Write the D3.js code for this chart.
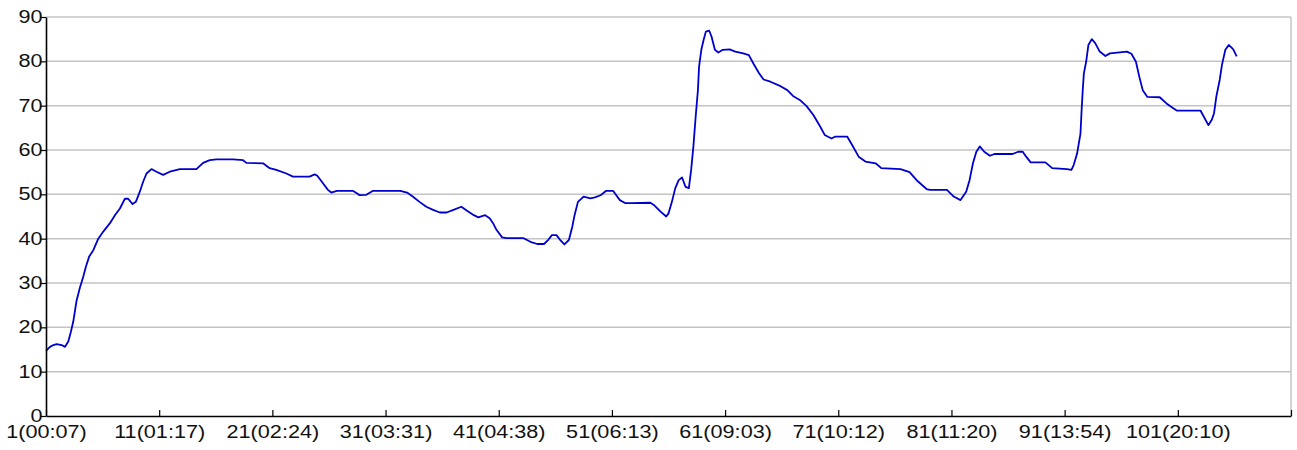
<!DOCTYPE html>
<html>
<head>
<meta charset="utf-8">
<script src="https://cdn.jsdelivr.net/npm/d3@7"></script>
<style>
  body { margin: 0; background: #fff; }
  text { font-family: Arial, "Liberation Sans", sans-serif; }
</style>
</head>
<body>
<svg id="chart" width="1297" height="450"></svg>
<script>
// sample position (record index) and reading
var readings = [
  [1.0,14.7],[1.35,15.6],[1.65,16.0],[1.94,16.2],[2.38,16.0],[2.68,15.6],[2.97,16.8],[3.2,19.0],[3.41,21.3],[3.7,26.0],
  [4.0,29.0],[4.29,31.4],[4.53,33.7],[4.82,36.0],[5.18,37.4],[5.62,40.0],[6.06,41.6],[6.65,43.5],[7.09,45.3],[7.53,46.8],
  [7.97,49.0],[8.26,49.0],[8.65,47.8],[8.94,48.3],[9.29,50.6],[9.59,52.9],[9.88,54.7],[10.32,55.7],[10.76,55.1],[11.35,54.4],
  [11.94,55.1],[12.82,55.7],[14.29,55.7],[14.88,57.1],[15.47,57.7],[16.06,57.9],[17.53,57.9],[18.41,57.7],[18.71,57.1],[20.18,57.0],
  [20.76,55.9],[21.35,55.5],[22.24,54.7],[22.82,54.0],[24.29,54.0],[24.74,54.5],[24.97,54.2],[25.47,52.5],[25.91,51.0],[26.2,50.4],
  [26.7,50.8],[28.1,50.8],[28.5,50.2],[28.7,49.8],[29.3,49.9],[29.9,50.8],[32.3,50.8],[32.9,50.4],[33.4,49.5],[34.0,48.3],
  [34.6,47.2],[35.2,46.5],[35.8,45.9],[36.4,45.9],[37.0,46.5],[37.7,47.2],[38.2,46.3],[38.8,45.3],[39.2,44.8],[39.8,45.3],
  [40.2,44.6],[40.5,43.5],[40.8,42.0],[41.3,40.3],[41.7,40.1],[43.2,40.1],[43.8,39.3],[44.4,38.8],[45.0,38.8],[45.4,39.8],
  [45.7,40.8],[46.1,40.8],[46.4,39.8],[46.8,38.7],[47.2,39.7],[47.5,42.7],[47.7,45.3],[48.0,48.3],[48.5,49.5],[49.1,49.1],
  [49.5,49.3],[50.0,49.8],[50.5,50.8],[51.1,50.8],[51.7,48.7],[52.2,48.0],[52.7,48.0],[54.4,48.1],[54.7,47.6],[55.3,46.1],
  [55.8,45.0],[56.0,45.7],[56.3,48.3],[56.6,51.4],[56.9,53.2],[57.2,53.8],[57.5,51.7],[57.8,51.4],[58.0,55.5],[58.2,60.8],
  [58.4,67.5],[58.6,73.5],[58.7,78.8],[58.9,82.6],[59.1,84.8],[59.3,86.7],[59.6,86.9],[59.8,85.6],[60.1,82.6],[60.4,82.0],
  [60.8,82.6],[61.4,82.7],[61.9,82.2],[62.6,81.8],[63.1,81.4],[63.5,79.5],[64.0,77.3],[64.4,75.9],[65.0,75.4],[65.9,74.4],
  [66.5,73.5],[67.0,72.2],[67.6,71.3],[68.2,69.9],[68.8,67.9],[69.4,65.3],[69.8,63.4],[70.4,62.6],[70.7,63.0],[71.8,63.0],
  [72.3,60.8],[72.8,58.5],[73.4,57.4],[74.3,57.0],[74.8,55.9],[76.5,55.7],[77.3,55.0],[78.0,53.0],[78.8,51.2],[79.1,51.0],
  [80.6,51.0],[81.2,49.5],[81.8,48.7],[82.3,50.6],[82.6,53.2],[82.9,57.0],[83.2,59.6],[83.5,60.8],[83.9,59.6],[84.4,58.7],
  [84.8,59.1],[86.4,59.1],[86.9,59.6],[87.3,59.6],[87.6,58.5],[88.0,57.2],[89.3,57.2],[89.9,55.9],[91.2,55.7],[91.6,55.5],
  [91.8,56.6],[92.1,59.2],[92.4,63.7],[92.5,69.0],[92.6,73.5],[92.7,77.3],[92.9,79.9],[93.1,83.7],[93.4,85.0],[93.7,84.1],
  [94.1,82.2],[94.6,81.2],[95.0,81.8],[96.5,82.2],[96.9,81.7],[97.3,79.9],[97.6,76.5],[97.9,73.5],[98.3,72.0],[99.4,71.9],
  [100.0,70.5],[100.6,69.4],[100.9,68.9],[103.0,68.9],[103.3,67.5],[103.7,65.6],[104.0,66.8],[104.2,68.3],[104.4,72.0],[104.7,75.8],
  [104.9,79.2],[105.2,82.6],[105.5,83.7],[105.9,82.7],[106.2,81.1]
]

var xTicks = [1, 11, 21, 31, 41, 51, 61, 71, 81, 91, 101, 111]
var xLabels = ["1(00:07)", "11(01:17)", "21(02:24)", "31(03:31)", "41(04:38)", "51(06:13)",
               "61(09:03)", "71(10:12)", "81(11:20)", "91(13:54)", "101(20:10)", ""]
var yTicks = [0, 10, 20, 30, 40, 50, 60, 70, 80, 90]

var svg = d3.select("#chart"),
    plotL = 46, plotR = 1291, plotT = 17, plotB = 416,
    stretch = "scale(1.17,1)"

var x = d3.scaleLinear().domain([1, 111]).range([plotL, plotR])
var y = d3.scaleLinear().domain([0, 90]).range([plotB, plotT])

// horizontal grid
svg.append("g").selectAll("line")
  .data(yTicks.filter(function(d) { return d > 0 }))
  .enter().append("line")
  .attr("x1", plotL).attr("x2", plotR)
  .attr("y1", function(d) { return y(d) }).attr("y2", function(d) { return y(d) })
  .attr("stroke", "#c4c4c4").attr("stroke-width", 1.5)

// right border
svg.append("line")
  .attr("x1", plotR).attr("x2", plotR).attr("y1", plotT).attr("y2", plotB)
  .attr("stroke", "#c4c4c4").attr("stroke-width", 1.5)

var line = d3.line()
  .x(function(d) { return x(d[0]) })
  .y(function(d) { return y(d[1]) })

svg.append("path")
  .datum(readings)
  .attr("d", line)
  .attr("fill", "none")
  .attr("stroke", "#0000cc")
  .attr("stroke-width", 1.8)
  .attr("stroke-linejoin", "round")

// y axis
var yAxis = svg.append("g")
  .attr("transform", "translate(" + plotL + ",0)")
  .call(d3.axisLeft(y).tickValues(yTicks).tickSize(6).tickPadding(1).tickSizeOuter(0))
yAxis.select(".domain").attr("stroke", "#000").attr("stroke-width", 1.6)
yAxis.selectAll(".tick line").attr("stroke", "#000").attr("stroke-width", 1.2)
yAxis.selectAll("text")
  .attr("font-size", "18.5px").attr("fill", "#111")
  .attr("x", -3).attr("dy", "0.3em")
  .attr("transform", stretch)

// x axis, ticks pointing up into the plot
var xAxis = svg.append("g")
  .attr("transform", "translate(0," + plotB + ")")
  .call(d3.axisBottom(x).tickValues(xTicks)
    .tickFormat(function(d, i) { return xLabels[i] })
    .tickSizeInner(-6).tickSizeOuter(0).tickPadding(6))
xAxis.select(".domain").attr("stroke", "#000").attr("stroke-width", 1.6)
xAxis.selectAll(".tick line").attr("stroke", "#000").attr("stroke-width", 1.2)
xAxis.selectAll("text")
  .attr("font-size", "18.5px").attr("fill", "#111")
  .attr("y", 9)
  .attr("transform", stretch)
</script>
</body>
</html>
